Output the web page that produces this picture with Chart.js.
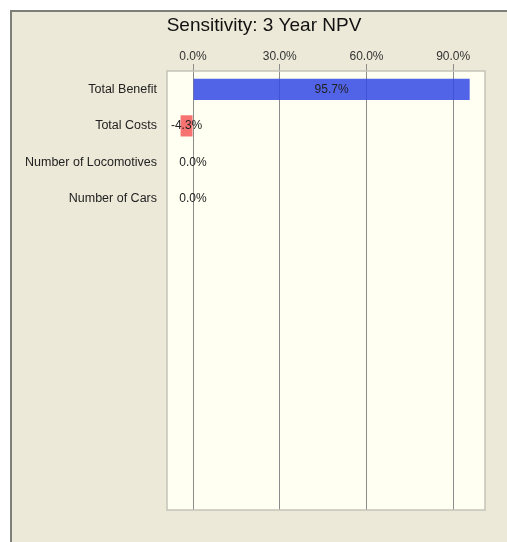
<!DOCTYPE html>
<html>
<head>
<meta charset="utf-8">
<script src="https://cdn.jsdelivr.net/npm/chart.js@4"></script>
<style>
  body { margin: 0; background: #ffffff; width: 507px; height: 542px; overflow: hidden; position: relative; }
  #frame {
    position: absolute; left: 10px; top: 10px; right: -4px; bottom: -4px;
    background: #ece9d8; border-left: 2px solid #7f7f7a; border-top: 2px solid #7f7f7a;
  }
  #wrap { position: absolute; left: 22px; top: 12px; width: 485px; height: 530px; }
</style>
</head>
<body>
<div id="frame"></div>
<div id="wrap"><canvas id="chart"></canvas></div>
<script>
const categories = [
  "Total Benefit",
  "Total Costs",
  "Number of Locomotives",
  "Number of Cars",
  "", "", "", "", "", "", "", ""
];
const sensitivity = [95.7, -4.3, 0.0, 0.0, null, null, null, null, null, null, null, null];
const barColors = ["rgba(50, 72, 228, 0.85)", "rgba(245, 80, 80, 0.8)", "#4858e0", "#4858e0"];
const tickValues = [0, 30, 60, 90];
const chartTitle = "Sensitivity: 3 Year NPV";

const FONT = "'Liberation Sans', Arial, sans-serif";

const plotBackground = {
  id: "plotBackground",
  beforeDraw(chart) {
    const { ctx, chartArea: a } = chart;
    ctx.save();
    ctx.fillStyle = "#fffff2";
    ctx.fillRect(a.left, a.top, a.width, a.height);
    ctx.restore();
  },
  afterDraw(chart) {
    const { ctx, chartArea: a } = chart;
    ctx.save();
    ctx.strokeStyle = "#c4c3b8";
    ctx.lineWidth = 1.5;
    ctx.strokeRect(a.left, a.top, a.width, a.height);
    // title, centred on the outer frame rather than the plot
    ctx.font = "19px " + FONT;
    ctx.fillStyle = "#111";
    ctx.textAlign = "center";
    ctx.textBaseline = "middle";
    ctx.fillText(chartTitle, 242, 13.5);
    ctx.restore();
  }
};

const barLabels = {
  id: "barLabels",
  afterDatasetsDraw(chart) {
    const { ctx } = chart;
    const meta = chart.getDatasetMeta(0);
    ctx.save();
    ctx.font = "12px " + FONT;
    ctx.fillStyle = "#222";
    ctx.textAlign = "center";
    ctx.textBaseline = "middle";
    meta.data.forEach((bar, i) => {
      const v = sensitivity[i];
      if (v === null) return;
      const mid = (bar.x + bar.base) / 2;
      ctx.fillText(v.toFixed(1) + "%", mid, bar.y);
    });
    ctx.restore();
  }
};

new Chart(document.getElementById("chart"), {
  type: "bar",
  data: {
    labels: categories,
    datasets: [{
      data: sensitivity,
      backgroundColor: barColors,
      borderWidth: 0,
      categoryPercentage: 1,
      barPercentage: 0.58
    }]
  },
  options: {
    indexAxis: "y",
    responsive: true,
    maintainAspectRatio: false,
    animation: false,
    layout: { padding: { left: 0, right: 22, top: 32.8, bottom: 32 } },
    plugins: {
      legend: { display: false },
      tooltip: { enabled: false },
      title: { display: false }
    },
    scales: {
      x: {
        position: "top",
        min: -9,
        max: 101,
        afterBuildTicks(scale) {
          scale.ticks = tickValues.map(v => ({ value: v }));
        },
        afterFit(scale) { scale.height = 59 - 32.8; },
        ticks: {
          color: "#333",
          padding: 0,
          font: { family: FONT, size: 12 },
          callback: v => v.toFixed(1) + "%"
        },
        grid: { color: "#8c8c8c", tickLength: 7, lineWidth: 1 },
        border: { display: false }
      },
      y: {
        afterFit(scale) { scale.width = 145; },
        ticks: {
          color: "#222",
          padding: 2,
          autoSkip: false,
          font: { family: FONT, size: 12.5 }
        },
        grid: { display: false },
        border: { display: false }
      }
    }
  },
  plugins: [plotBackground, barLabels]
});
</script>
</body>
</html>
